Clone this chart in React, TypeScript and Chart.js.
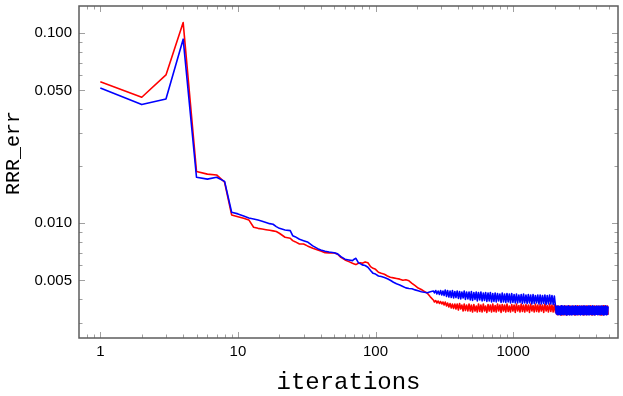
import React, { useEffect, useRef } from "react";
import { Chart, registerables } from "chart.js";

Chart.register(...registerables);

// iteration numbers at which both errors were sampled
const iterations = [
  1, 2, 3, 4, 5, 6, 7, 8, 9, 10,
  11, 12, 13, 14, 15, 16, 17, 18, 19, 20,
  22, 24, 25, 26, 28, 30, 32, 35, 38, 40,
  43, 46, 50, 53, 56, 60, 64, 68, 70, 72,
  75, 78, 80, 84, 88, 92, 96, 100, 105, 110,
  116, 122, 128, 135, 142, 150, 158, 166, 175, 184,
  194, 204, 215, 226, 238, 250,
  263, 268, 274, 279, 285, 291, 297, 303, 309, 315,
  321, 328, 334, 341, 348, 355, 362, 369, 377, 384,
  392, 400, 408, 416, 424, 433, 441, 450, 459, 469,
  478, 488, 497, 507, 518, 528, 539, 549, 560, 572,
  583, 595, 607, 619, 631, 644, 657, 670, 683, 697,
  711, 725, 740, 754, 770, 785, 801, 817, 833, 850,
  867, 884, 902, 920, 938, 957, 976, 996, 1016, 1036,
  1057, 1078, 1100, 1122, 1144, 1167, 1190, 1214, 1239, 1263,
  1289, 1314, 1341, 1368, 1395, 1423, 1451, 1480, 1510, 1540,
  1571, 1602, 1634, 1667, 1701, 1735, 1769, 1805, 1841, 1878,
  1915, 1954, 1993, 2030,
  2055, 2080, 2105, 2130, 2155, 2181, 2207, 2234, 2261, 2288,
  2315, 2343, 2371, 2400, 2429, 2458, 2487, 2517, 2547, 2578,
  2609, 2640, 2672, 2704, 2736, 2769, 2802, 2836, 2870, 2904,
  2939, 2974, 3010, 3046, 3083, 3120, 3157, 3195, 3233, 3272,
  3311, 3351, 3391, 3432, 3473, 3515, 3557, 3600, 3643, 3687,
  3731, 3776, 3821, 3867, 3913, 3960, 4008, 4056, 4104, 4154,
  4203, 4254, 4305, 4357, 4409, 4462, 4515, 4570, 4624, 4680,
  4736, 4793, 4850, 4900,
];

// red curve
const redErr = [
  0.0556, 0.046, 0.0603, 0.1137, 0.0187, 0.01813, 0.01795, 0.01644, 0.01106, 0.01083,
  0.01062, 0.01041, 0.00953, 0.0094, 0.00933, 0.00925, 0.00918, 0.00912, 0.00905, 0.00886,
  0.00844, 0.00834, 0.0081, 0.008, 0.00778, 0.00778, 0.0076, 0.00739, 0.00724, 0.00715,
  0.007, 0.00698, 0.007, 0.00687, 0.00662, 0.00641, 0.00628, 0.00616, 0.00611, 0.00606,
  0.00616, 0.0062, 0.00616, 0.00626, 0.0062, 0.00591, 0.00579, 0.00572, 0.00552, 0.00545,
  0.00539, 0.00528, 0.0052, 0.00516, 0.00512, 0.00508, 0.00501, 0.00504, 0.00498, 0.00483,
  0.00469, 0.00456, 0.00448, 0.00438, 0.00428, 0.0041,
  0.003947, 0.003852, 0.003923, 0.003806, 0.003899, 0.003783, 0.003876, 0.00376, 0.003852, 0.003715,
  0.003852, 0.00367, 0.003806, 0.003626, 0.003783, 0.003582, 0.00376, 0.00356, 0.00376, 0.003539,
  0.00376, 0.003496, 0.003783, 0.003539, 0.003715, 0.003454, 0.00376, 0.003475, 0.003715, 0.003454,
  0.00376, 0.003454, 0.003715, 0.003412, 0.003737, 0.003454, 0.00367, 0.003412, 0.00376, 0.003433,
  0.003715, 0.003412, 0.00376, 0.003454, 0.00367, 0.003392, 0.003737, 0.003454, 0.003715, 0.003412,
  0.00376, 0.003433, 0.003692, 0.003412, 0.00376, 0.003454, 0.003715, 0.003392, 0.003737, 0.003454,
  0.003715, 0.003412, 0.00376, 0.003433, 0.00367, 0.003412, 0.003737, 0.003454, 0.003715, 0.003392,
  0.00376, 0.003454, 0.003692, 0.003412, 0.00376, 0.003433, 0.003715, 0.003412, 0.003737, 0.003454,
  0.003715, 0.003392, 0.00376, 0.003454, 0.003692, 0.003412, 0.00376, 0.003433, 0.003715, 0.003412,
  0.003737, 0.003454, 0.003715, 0.003392, 0.00376, 0.003454, 0.003692, 0.003412, 0.00376, 0.003433,
  0.003715, 0.003412, 0.003737, 0.003392,
  0.00366, 0.00331, 0.00367, 0.0033, 0.00365, 0.00332, 0.00366, 0.00329, 0.00367, 0.00331,
  0.00365, 0.0033, 0.00368, 0.00331, 0.00366, 0.00329, 0.00365, 0.00332, 0.00367, 0.0033,
  0.00366, 0.00331, 0.00365, 0.00332, 0.00367, 0.0033, 0.00366, 0.00329, 0.00365, 0.00331,
  0.00368, 0.0033, 0.00366, 0.00331, 0.00365, 0.00332, 0.00367, 0.0033, 0.00366, 0.00329,
  0.00365, 0.00331, 0.00367, 0.0033, 0.00366, 0.00332, 0.00365, 0.00331, 0.00368, 0.0033,
  0.00366, 0.00329, 0.00365, 0.00331, 0.00367, 0.0033, 0.00366, 0.00332, 0.00365, 0.00331,
  0.00367, 0.0033, 0.00366, 0.00329, 0.00365, 0.00331, 0.00368, 0.0033, 0.00366, 0.00332,
  0.00365, 0.00331, 0.00367, 0.0033,
];

// blue curve
const blueErr = [
  0.0515, 0.0421, 0.0451, 0.093, 0.01746, 0.01706, 0.01746, 0.0166, 0.01143, 0.0112,
  0.01093, 0.01066, 0.01053, 0.0104, 0.01025, 0.0101, 0.00995, 0.00988, 0.0096, 0.0094,
  0.00922, 0.00914, 0.0086, 0.0085, 0.00824, 0.0081, 0.00797, 0.0076, 0.00735, 0.00724,
  0.00712, 0.00706, 0.007, 0.0069, 0.00667, 0.00647, 0.00641, 0.00636, 0.00647, 0.00654,
  0.0062, 0.00611, 0.00604, 0.00599, 0.00587, 0.00564, 0.00545, 0.0054, 0.00528, 0.00524,
  0.00518, 0.0051, 0.00501, 0.00489, 0.0048, 0.00473, 0.00465, 0.00457, 0.00454, 0.00452,
  0.00446, 0.00441, 0.00436, 0.00433, 0.00431, 0.00436,
  0.004402, 0.004297, 0.004429, 0.004245, 0.004402, 0.004219, 0.004429, 0.004194, 0.004402, 0.004169,
  0.004456, 0.004118, 0.004429, 0.004093, 0.004402, 0.004068, 0.004429, 0.004044, 0.004375, 0.004068,
  0.004402, 0.00402, 0.004375, 0.003995, 0.004349, 0.004044, 0.004402, 0.003971, 0.004349, 0.003995,
  0.004349, 0.003947, 0.004375, 0.003923, 0.004323, 0.003971, 0.004349, 0.003899, 0.004323, 0.003947,
  0.004349, 0.003899, 0.004297, 0.003923, 0.004323, 0.003876, 0.004297, 0.003899, 0.004323, 0.003852,
  0.004271, 0.003876, 0.004297, 0.003852, 0.004271, 0.003899, 0.004245, 0.003829, 0.004297, 0.003852,
  0.004245, 0.003829, 0.004271, 0.003852, 0.004245, 0.003806, 0.004271, 0.003829, 0.004219, 0.003806,
  0.004245, 0.003806, 0.004194, 0.003829, 0.004219, 0.003783, 0.004245, 0.003806, 0.004194, 0.003783,
  0.004219, 0.003806, 0.004194, 0.00376, 0.004219, 0.003783, 0.004169, 0.003806, 0.004194, 0.00376,
  0.004194, 0.00376, 0.004169, 0.003783, 0.004194, 0.003737, 0.004169, 0.00376, 0.004194, 0.00376,
  0.004169, 0.003737, 0.004143, 0.00367,
  0.00334, 0.00366, 0.0033, 0.00367, 0.00331, 0.00365, 0.00329, 0.00368, 0.00331, 0.00366,
  0.0033, 0.00367, 0.00332, 0.00365, 0.00329, 0.00366, 0.00331, 0.00368, 0.0033, 0.00365,
  0.00331, 0.00366, 0.00329, 0.00367, 0.00332, 0.00365, 0.0033, 0.00368, 0.00331, 0.00366,
  0.0033, 0.00365, 0.00332, 0.00367, 0.00329, 0.00366, 0.00331, 0.00365, 0.0033, 0.00368,
  0.00332, 0.00366, 0.0033, 0.00365, 0.00331, 0.00367, 0.00329, 0.00366, 0.00332, 0.00365,
  0.0033, 0.00368, 0.00331, 0.00366, 0.00329, 0.00365, 0.00332, 0.00367, 0.0033, 0.00366,
  0.00331, 0.00365, 0.0033, 0.00367, 0.00332, 0.00366, 0.00329, 0.00365, 0.00331, 0.00368,
  0.0033, 0.00366, 0.00332, 0.00365,
];

const xTickValues = [1, 10, 100, 1000];
const xTickLabels = ["1", "10", "100", "1000"];
const yTickValues = [0.005, 0.01, 0.05, 0.1];
const yTickLabels = ["0.005", "0.010", "0.050", "0.100"];
const xMinorTicks = [
  0.8, 0.9, 2, 3, 4, 5, 6, 7, 8, 9, 20, 30, 40, 50, 60, 70, 80, 90,
  200, 300, 400, 500, 600, 700, 800, 900, 2000, 3000, 4000, 5000,
];
const yMinorTicks = [0.003, 0.004, 0.006, 0.007, 0.008, 0.009, 0.02, 0.03, 0.04, 0.06, 0.07, 0.08, 0.09];
const xRange = [0.705, 5780];
const yRange = [0.00249, 0.139];
const xTitle = "iterations";
const yTitle = "RRR_err";
const seriesNames = ["blue", "red"];

const W = 623;
const H = 396;

const framePlugin = {
  id: "mmaFrame",
  beforeDatasetsDraw(chart: any) {
    const { ctx, chartArea: a, scales } = chart;
    const xs = scales.x;
    const ys = scales.y;
    ctx.save();
    ctx.strokeStyle = "#a0a0a0";
    ctx.lineWidth = 1;
    const seg = (x1: number, y1: number, x2: number, y2: number) => {
      ctx.beginPath();
      ctx.moveTo(x1, y1);
      ctx.lineTo(x2, y2);
      ctx.stroke();
    };
    const xt = (v: number, len: number) => {
      const p = Math.round(xs.getPixelForValue(v)) + 0.5;
      if (p < a.left || p > a.right) return;
      seg(p, a.bottom, p, a.bottom - len);
      seg(p, a.top, p, a.top + len);
    };
    const yt = (v: number, len: number) => {
      const p = Math.round(ys.getPixelForValue(v)) + 0.5;
      if (p < a.top || p > a.bottom) return;
      seg(a.left, p, a.left + len, p);
      seg(a.right, p, a.right - len, p);
    };
    xTickValues.forEach((v) => xt(v, 6));
    xMinorTicks.forEach((v) => xt(v, 3.5));
    yTickValues.forEach((v) => yt(v, 6));
    yMinorTicks.forEach((v) => yt(v, 3.5));
    ctx.strokeStyle = "#5c5c5c";
    ctx.lineWidth = 1.5;
    ctx.strokeRect(a.left, a.top, a.right - a.left, a.bottom - a.top);
    ctx.restore();
  },
  afterDraw(chart: any) {
    const { ctx, chartArea: a } = chart;
    ctx.save();
    ctx.fillStyle = "#000";
    ctx.font = "24px 'Liberation Mono', 'Courier New', monospace";
    ctx.textAlign = "center";
    ctx.textBaseline = "alphabetic";
    ctx.fillText(xTitle, (a.left + a.right) / 2, chart.height - 7);
    ctx.font = "20px 'Liberation Mono', 'Courier New', monospace";
    ctx.translate(19, a.top + 147);
    ctx.rotate(-Math.PI / 2);
    ctx.fillText(yTitle, 0, 0);
    ctx.restore();
  },
};

export default function App() {
  const ref = useRef<HTMLCanvasElement | null>(null);
  useEffect(() => {
    if (!ref.current) return;
    const tickFont = { family: "'Liberation Sans', Arial, sans-serif", size: 15 };
    const lineStyle = {
      borderWidth: 1.6,
      pointRadius: 0,
      borderJoinStyle: "round",
      tension: 0,
      fill: false,
    };
    const chart = new Chart(ref.current, {
      type: "line",
      data: {
        datasets: [
          {
            label: seriesNames[0],
            data: iterations.map((x, i) => ({ x, y: blueErr[i] })),
            borderColor: "#0000ff",
            ...lineStyle,
          },
          {
            label: seriesNames[1],
            data: iterations.map((x, i) => ({ x, y: redErr[i] })),
            borderColor: "#ff0000",
            ...lineStyle,
          },
        ],
      },
      options: {
        animation: false,
        responsive: false,
        devicePixelRatio: 1,
        layout: { padding: { top: 6, right: 5, left: 0, bottom: 0 } },
        plugins: { legend: { display: false }, tooltip: { enabled: false }, title: { display: false } },
        scales: {
          x: {
            type: "logarithmic",
            min: xRange[0],
            max: xRange[1],
            afterBuildTicks: (s: any) => {
              s.ticks = xTickValues.map((v) => ({ value: v }));
            },
            afterFit: (s: any) => {
              s.height = 58;
              s.paddingLeft = 0;
              s.paddingRight = 0;
            },
            grid: { display: false, drawTicks: false },
            border: { display: false },
            ticks: {
              callback: (v: any) => {
                const i = xTickValues.indexOf(Number(v));
                return i >= 0 ? xTickLabels[i] : "";
              },
              font: tickFont,
              color: "#000",
              padding: 5,
              maxRotation: 0,
              autoSkip: false,
            },
          },
          y: {
            type: "logarithmic",
            min: yRange[0],
            max: yRange[1],
            afterBuildTicks: (s: any) => {
              s.ticks = yTickValues.map((v) => ({ value: v }));
            },
            afterFit: (s: any) => {
              s.width = 79;
              s.paddingTop = 0;
              s.paddingBottom = 0;
            },
            grid: { display: false, drawTicks: false },
            border: { display: false },
            ticks: {
              callback: (v: any) => {
                const i = yTickValues.indexOf(Number(v));
                return i >= 0 ? yTickLabels[i] : "";
              },
              font: tickFont,
              color: "#000",
              padding: 7,
              autoSkip: false,
            },
          },
        },
      },
      plugins: [framePlugin],
    } as any);
    return () => chart.destroy();
  }, []);
  return (
    <div style={{ position: "fixed", left: 0, top: 0, width: W, height: H, background: "#fff" }}>
      <canvas ref={ref} width={W} height={H} style={{ display: "block", width: W, height: H }} />
    </div>
  );
}
